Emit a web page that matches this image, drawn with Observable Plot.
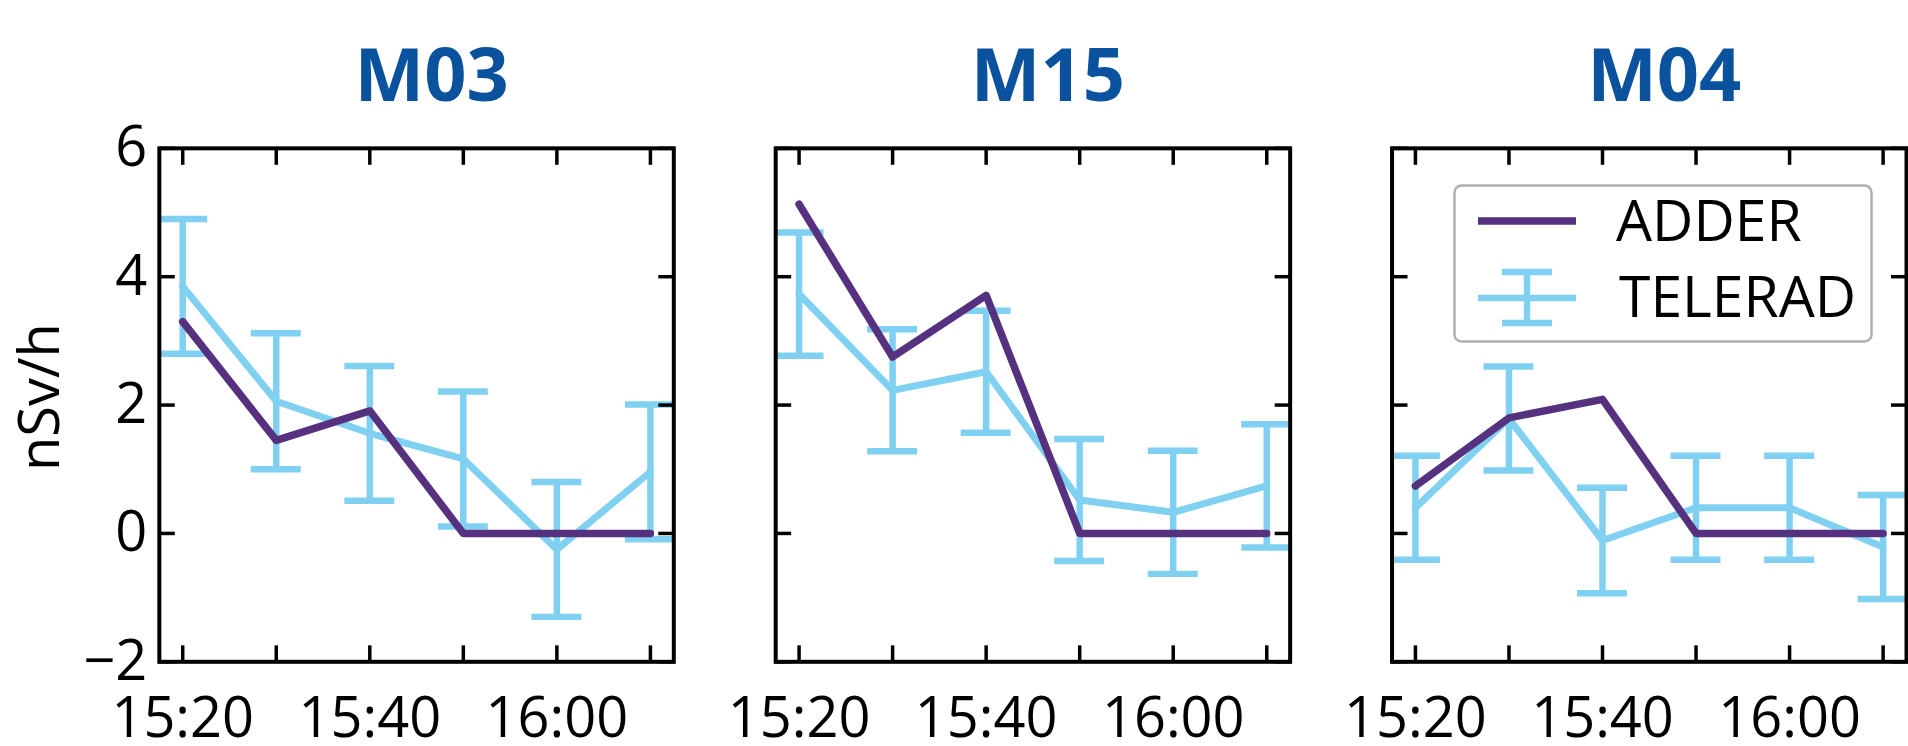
<!DOCTYPE html>
<html>
<head>
<meta charset="utf-8">
<script src="https://cdn.jsdelivr.net/npm/d3@7"></script>
<script src="https://cdn.jsdelivr.net/npm/@observablehq/plot@0.6"></script>
<style>
  html, body { margin: 0; padding: 0; background: #fff; overflow: hidden; }
  #wrap { position: relative; width: 1908px; height: 746px; overflow: hidden; }
  #legend { position: absolute; left: 1453px; top: 184px; }
</style>
</head>
<body>
<div id="wrap"></div>
<script>
// ---------- data ----------
const stations = ["M03", "M15", "M04"];
const timeLabels = ["15:20", "15:30", "15:40", "15:50", "16:00", "16:10"];
const xTickLabels = ["15:20", "15:40", "16:00"];
const yTicks = [-2, 0, 2, 4, 6];
const seriesNames = ["ADDER", "TELERAD"];
const yLabel = "nSv/h";

const adderM03 = [3.30, 1.45, 1.91, 0, 0, 0];
const teleradM03 = [3.85, 2.06, 1.56, 1.16, -0.25, 0.96];
const errM03 = [1.05, 1.06, 1.05, 1.05, 1.05, 1.05];

const adderM15 = [5.13, 2.75, 3.71, 0, 0, 0];
const teleradM15 = [3.73, 2.23, 2.52, 0.52, 0.33, 0.74];
const errM15 = [0.96, 0.95, 0.95, 0.95, 0.96, 0.96];

const adderM04 = [0.74, 1.80, 2.09, 0, 0, 0];
const teleradM04 = [0.40, 1.79, -0.11, 0.40, 0.40, -0.21];
const errM04 = [0.81, 0.81, 0.82, 0.81, 0.81, 0.81];

// ---------- styles ----------
const colAdder = "#553180";
const colTelerad = "#80d1f1";
const colTitle = "#0a529e";
const font = "'Open Sans', 'Noto Sans', sans-serif";

// ---------- build table ----------
const parseT = s => { const [h, m] = s.split(":").map(Number); return new Date(Date.UTC(2020, 0, 1, h, m)); };
const times = timeLabels.map(parseT);
const labelTimes = xTickLabels.map(parseT);
const adder = {M03: adderM03, M15: adderM15, M04: adderM04};
const telerad = {M03: teleradM03, M15: teleradM15, M04: teleradM04};
const err = {M03: errM03, M15: errM15, M04: errM04};
const rows = [];
for (const s of stations) {
  times.forEach((t, j) => rows.push({
    station: s, t,
    adder: adder[s][j],
    telerad: telerad[s][j],
    lo: telerad[s][j] - err[s][j],
    hi: telerad[s][j] + err[s][j]
  }));
}
const pad = 2.5 * 60 * 1000;
const xDomain = [new Date(+times[0] - pad), new Date(+times[times.length - 1] + pad)];

const inward = {tickSize: -16, strokeWidth: 3.5, fill: "none", facetAnchor: null, label: null};

const chart = Plot.plot({
  width: 1910,
  height: 746,
  marginTop: 148,
  marginBottom: 84,
  marginLeft: 158,
  marginRight: 0,
  style: {fontFamily: font, color: "black", background: "white", overflow: "visible"},
  fx: {domain: stations, padding: 0.165, axis: null},
  x: {type: "utc", domain: xDomain},
  y: {domain: [-2, 6]},
  marks: [
    // error bars (TELERAD)
    Plot.ruleX(rows, {fx: "station", x: "t", y1: "lo", y2: "hi", stroke: colTelerad, strokeWidth: 6.5, clip: true}),
    Plot.ruleY(rows, {fx: "station", x1: "t", x2: "t", y: "hi", insetLeft: -25, insetRight: -25, stroke: colTelerad, strokeWidth: 6.5, clip: true}),
    Plot.ruleY(rows, {fx: "station", x1: "t", x2: "t", y: "lo", insetLeft: -25, insetRight: -25, stroke: colTelerad, strokeWidth: 6.5, clip: true}),
    Plot.line(rows, {fx: "station", x: "t", y: "telerad", stroke: colTelerad, strokeWidth: 7}),
    Plot.line(rows, {fx: "station", x: "t", y: "adder", stroke: colAdder, strokeWidth: 7.5}),
    // inward ticks on all four sides
    Plot.axisX({anchor: "bottom", ticks: times, ...inward}),
    Plot.axisX({anchor: "top", ticks: times, ...inward}),
    Plot.axisY({anchor: "left", ticks: yTicks, ...inward}),
    Plot.axisY({anchor: "right", ticks: yTicks, ...inward}),
    // tick labels
    Plot.axisX({anchor: "bottom", ticks: labelTimes, tickFormat: d3.utcFormat("%H:%M"), tickSize: 0, tickPadding: 36, fontSize: 56, label: null}),
    Plot.axisY({anchor: "left", ticks: yTicks, tickFormat: d3.format("d"), tickSize: 0, tickPadding: 12, fontSize: 56, label: null}),
    // y axis title
    Plot.text([yLabel], {fx: () => stations[0], text: d => d, frameAnchor: "left", textAnchor: "middle", lineAnchor: "middle", rotate: -90, dx: -118, dy: -8, fontSize: 56}),
    // panel titles
    Plot.text(stations, {fx: d => d, text: d => d, frameAnchor: "top", textAnchor: "middle", lineAnchor: "middle", dx: 15, dy: -71, fontSize: 74, fontWeight: "bold", fill: colTitle}),
    Plot.frame({stroke: "black", strokeWidth: 4})
  ]
});

const wrap = document.getElementById("wrap");
wrap.appendChild(chart);

// ---------- legend (inside the M04 panel) ----------
const lg = d3.select(wrap).append("svg")
  .attr("id", "legend").attr("width", 422).attr("height", 162)
  .style("font-family", font);
lg.append("rect").attr("x", 1.5).attr("y", 1.5).attr("width", 417).attr("height", 156)
  .attr("rx", 7).attr("fill", "white").attr("stroke", "#b0b0b0").attr("stroke-width", 2.5);
// ADDER entry
lg.append("line").attr("x1", 25).attr("x2", 123).attr("y1", 37).attr("y2", 37)
  .attr("stroke", colAdder).attr("stroke-width", 7.5);
lg.append("text").attr("x", 163).attr("y", 57).attr("font-size", 57).text(seriesNames[0]);
// TELERAD entry
lg.append("line").attr("x1", 25).attr("x2", 123).attr("y1", 114).attr("y2", 114)
  .attr("stroke", colTelerad).attr("stroke-width", 6.5);
lg.append("line").attr("x1", 74).attr("x2", 74).attr("y1", 88).attr("y2", 139)
  .attr("stroke", colTelerad).attr("stroke-width", 6.5);
lg.append("line").attr("x1", 49).attr("x2", 99).attr("y1", 88).attr("y2", 88)
  .attr("stroke", colTelerad).attr("stroke-width", 6.5);
lg.append("line").attr("x1", 49).attr("x2", 99).attr("y1", 139).attr("y2", 139)
  .attr("stroke", colTelerad).attr("stroke-width", 6.5);
lg.append("text").attr("x", 166).attr("y", 133).attr("font-size", 57).text(seriesNames[1]);
</script>
</body>
</html>
